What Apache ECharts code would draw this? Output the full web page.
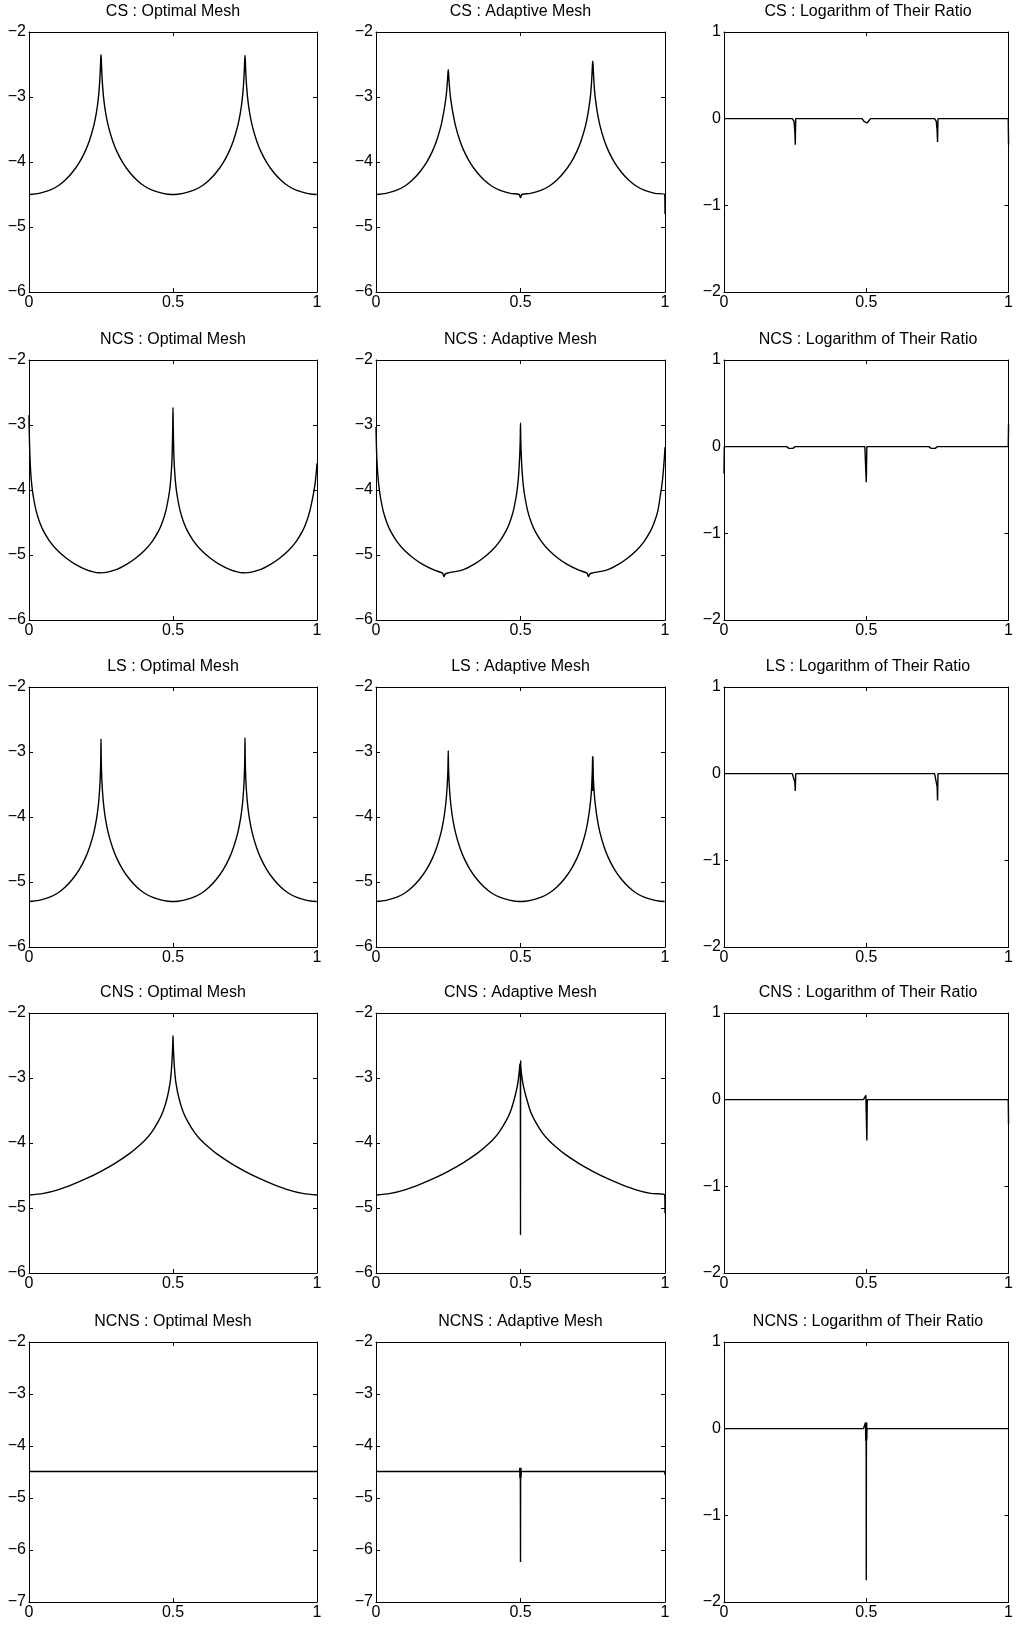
<!DOCTYPE html>
<html>
<head>
<meta charset="utf-8">
<script src="https://cdn.jsdelivr.net/npm/echarts@6/dist/echarts.min.js"></script>
<style>
html,body{margin:0;padding:0;background:#fff;}
#chart{width:1016px;height:1625px;}
</style>
</head>
<body>
<div id="chart"></div>
<script>
// ---------------- DATA ----------------
const rowNames = ['CS', 'NCS', 'LS', 'CNS', 'NCNS'];
const colTitles = ['Optimal Mesh', 'Adaptive Mesh', 'Logarithm of Their Ratio'];
const xTicks = [0, 0.5, 1];
const meshYRange = [-6, -2];
const ncnsYRange = [-7, -2];
const ratioYRange = [-2, 1];

// Row 1 & 3 shared x grid (peaks at 0.25 and 0.75)
const xTwoPeak = [0, 0.035, 0.07, 0.1, 0.125, 0.15, 0.175, 0.195, 0.21, 0.225, 0.234, 0.24, 0.244, 0.247, 0.249, 0.25, 0.251, 0.253, 0.256, 0.26, 0.266, 0.275, 0.29, 0.305, 0.325, 0.35, 0.375, 0.4, 0.43, 0.465,
  0.495, 0.5, 0.505,
  0.535, 0.57, 0.6, 0.625, 0.65, 0.675, 0.695, 0.71, 0.725, 0.734, 0.74, 0.744, 0.747, 0.749, 0.75, 0.751, 0.753, 0.756, 0.76, 0.766, 0.775, 0.79, 0.805, 0.825, 0.85, 0.875, 0.9, 0.93, 0.965,
  0.999, 1];

const csOpt = [-4.5, -4.482, -4.438, -4.369, -4.282, -4.162, -4.004, -3.836, -3.67, -3.44, -3.24, -3.05, -2.86, -2.64, -2.42, -2.35, -2.42, -2.64, -2.86, -3.05, -3.24, -3.44, -3.67, -3.836, -4.004, -4.162, -4.282, -4.369, -4.438, -4.482,
  -4.5, -4.5, -4.5,
  -4.482, -4.438, -4.369, -4.282, -4.162, -4.004, -3.836, -3.67, -3.44, -3.24, -3.05, -2.86, -2.64, -2.43, -2.36, -2.43, -2.64, -2.86, -3.05, -3.24, -3.44, -3.67, -3.836, -4.004, -4.162, -4.282, -4.369, -4.438, -4.482,
  -4.5, -4.5];
const csAda = [-4.5, -4.482, -4.438, -4.369, -4.282, -4.162, -4.004, -3.836, -3.67, -3.44, -3.24, -3.08, -2.93, -2.77, -2.63, -2.58, -2.63, -2.77, -2.93, -3.08, -3.24, -3.44, -3.67, -3.836, -4.004, -4.162, -4.282, -4.369, -4.438, -4.482,
  -4.5, -4.55, -4.5,
  -4.482, -4.438, -4.369, -4.282, -4.162, -4.004, -3.836, -3.67, -3.44, -3.24, -3.06, -2.89, -2.68, -2.5, -2.45, -2.5, -2.68, -2.89, -3.06, -3.24, -3.44, -3.67, -3.836, -4.004, -4.162, -4.282, -4.369, -4.438, -4.482,
  -4.5, -4.8];
const xCSr = [0, 0.24, 0.246, 0.249, 0.2505, 0.252, 0.485, 0.492, 0.497, 0.503, 0.508, 0.515, 0.74, 0.746, 0.749, 0.7505, 0.752, 0.999, 1];
const csRat = [0, 0, -0.03, -0.15, -0.3, 0, 0, -0.03, -0.05, -0.05, -0.03, 0, 0, -0.03, -0.14, -0.27, 0, 0, -0.3];

// Row 2 NCS
const xNCS = [0, 0.001, 0.003, 0.006, 0.01, 0.015, 0.025, 0.037, 0.05, 0.072, 0.1, 0.13, 0.16, 0.2, 0.23, 0.235, 0.24, 0.25, 0.3, 0.34, 0.37, 0.4, 0.428, 0.45, 0.463, 0.475, 0.485, 0.49, 0.494, 0.497, 0.499,
  0.5,
  0.501, 0.503, 0.506, 0.51, 0.515, 0.525, 0.537, 0.55, 0.572, 0.6, 0.63, 0.66, 0.7, 0.73, 0.735, 0.74, 0.75, 0.8, 0.84, 0.87, 0.9, 0.928, 0.95, 0.963, 0.975, 0.985, 0.99, 0.994, 0.997, 0.999, 1];
const ncsOpt = [-2.85, -3.12, -3.46, -3.73, -3.94, -4.1, -4.325, -4.497, -4.63, -4.79, -4.935, -5.05, -5.14, -5.23, -5.268, -5.271, -5.273, -5.275, -5.23, -5.14, -5.05, -4.935, -4.79, -4.63, -4.497, -4.325, -4.1, -3.94, -3.73, -3.46, -3.06,
  -2.73,
  -3.06, -3.46, -3.73, -3.94, -4.1, -4.325, -4.497, -4.63, -4.79, -4.935, -5.05, -5.14, -5.23, -5.268, -5.271, -5.273, -5.275, -5.23, -5.14, -5.05, -4.935, -4.79, -4.63, -4.497, -4.325, -4.12, -4.0, -3.88, -3.75, -3.65, -3.59];
const ncsAda = [-3.03, -3.25, -3.52, -3.75, -3.94, -4.1, -4.325, -4.497, -4.63, -4.79, -4.935, -5.05, -5.14, -5.23, -5.28, -5.33, -5.29, -5.275, -5.23, -5.14, -5.05, -4.935, -4.79, -4.63, -4.497, -4.325, -4.1, -3.94, -3.74, -3.5, -3.25,
  -2.97,
  -3.25, -3.5, -3.74, -3.94, -4.1, -4.325, -4.497, -4.63, -4.79, -4.935, -5.05, -5.14, -5.23, -5.28, -5.33, -5.29, -5.275, -5.23, -5.14, -5.05, -4.935, -4.79, -4.63, -4.497, -4.325, -4.05, -3.9, -3.72, -3.55, -3.42, -3.34];
const xNCSr = [0, 0.001, 0.22, 0.228, 0.235, 0.242, 0.25, 0.495, 0.498, 0.5, 0.502, 0.72, 0.728, 0.735, 0.742, 0.75, 0.999, 1];
const ncsRat = [-0.31, 0, 0, -0.02, -0.035, -0.02, 0, 0, -0.02, -0.41, 0, 0, -0.02, -0.035, -0.02, 0, 0, 0.26];

// Row 3 LS (uses xTwoPeak)
const lsOpt = [-5.3, -5.282, -5.238, -5.169, -5.082, -4.962, -4.804, -4.636, -4.47, -4.24, -4.04, -3.847, -3.658, -3.436, -3.16, -2.8, -3.16, -3.436, -3.658, -3.847, -4.04, -4.24, -4.47, -4.636, -4.804, -4.962, -5.082, -5.169, -5.238, -5.282,
  -5.3, -5.3, -5.3,
  -5.282, -5.238, -5.169, -5.082, -4.962, -4.804, -4.636, -4.47, -4.24, -4.04, -3.847, -3.658, -3.436, -3.15, -2.78, -3.15, -3.436, -3.658, -3.847, -4.04, -4.24, -4.47, -4.636, -4.804, -4.962, -5.082, -5.169, -5.238, -5.282,
  -5.3, -5.3];
const lsAda = [-5.3, -5.282, -5.238, -5.169, -5.082, -4.962, -4.804, -4.636, -4.47, -4.24, -4.04, -3.85, -3.67, -3.47, -3.25, -2.98, -3.25, -3.47, -3.67, -3.85, -4.04, -4.24, -4.47, -4.636, -4.804, -4.962, -5.082, -5.169, -5.238, -5.282,
  -5.3, -5.3, -5.3,
  -5.282, -5.238, -5.169, -5.082, -4.962, -4.804, -4.636, -4.47, -4.24, -4.04, -3.85, -3.68, -3.48, -3.3, -3.07, -3.3, -3.48, -3.68, -3.85, -4.04, -4.24, -4.47, -4.636, -4.804, -4.962, -5.082, -5.169, -5.238, -5.282,
  -5.3, -5.3];
const xLsSpike = [0.7485, 0.7495, 0.7505, 0.7515];
const lsSpike = [-3.6, -3.07, -3.35, -3.6];
const xLSr = [0, 0.24, 0.246, 0.249, 0.2505, 0.252, 0.74, 0.746, 0.749, 0.7505, 0.752, 1];
const lsRat = [0, 0, -0.02, -0.1, -0.2, 0, 0, -0.02, -0.15, -0.31, 0, 0];

// Row 4 CNS
const xCNS = [0, 0.05, 0.1, 0.15, 0.2, 0.25, 0.3, 0.35, 0.375, 0.4, 0.425, 0.45, 0.465, 0.48, 0.49, 0.494, 0.497, 0.499, 0.5, 0.501, 0.503, 0.506, 0.51, 0.52, 0.535, 0.55, 0.575, 0.6, 0.625, 0.65, 0.7, 0.75, 0.8, 0.85, 0.9, 0.95, 1];
const cnsOpt = [-4.8, -4.775, -4.72, -4.64, -4.545, -4.435, -4.31, -4.16, -4.07, -3.97, -3.84, -3.66, -3.52, -3.3, -3.07, -2.9, -2.7, -2.5, -2.35, -2.5, -2.7, -2.9, -3.07, -3.3, -3.52, -3.66, -3.84, -3.97, -4.07, -4.16, -4.31, -4.435, -4.545, -4.64, -4.72, -4.775, -4.8];
const xCNSa = [0, 0.05, 0.1, 0.15, 0.2, 0.25, 0.3, 0.35, 0.375, 0.4, 0.425, 0.45, 0.465, 0.48, 0.49, 0.494, 0.497, 0.4975, 0.499, 0.4995, 0.5, 0.5005, 0.501, 0.503, 0.506, 0.51, 0.52, 0.535, 0.55, 0.575, 0.6, 0.625, 0.65, 0.7, 0.75, 0.8, 0.85, 0.9, 0.95, 0.999, 1];
const cnsAda = [-4.8, -4.775, -4.72, -4.64, -4.545, -4.435, -4.31, -4.16, -4.07, -3.97, -3.84, -3.66, -3.52, -3.3, -3.1, -2.97, -2.84, -2.8, -2.78, -2.8, -5.42, -2.73, -2.82, -2.92, -3.02, -3.12, -3.3, -3.52, -3.66, -3.84, -3.97, -4.07, -4.16, -4.31, -4.435, -4.545, -4.64, -4.72, -4.775, -4.8, -5.08];
const xCNSr = [0, 0.49, 0.496, 0.4985, 0.502, 0.5035, 0.51, 0.999, 1];
const cnsRat = [0, 0, 0, 0.05, -0.47, 0, 0, 0, -0.28];

// Row 5 NCNS
const xNCNS = [0, 0.25, 0.5, 0.75, 1];
const ncnsOpt = [-4.49, -4.49, -4.49, -4.49, -4.49];
const xNCNSa = [0, 0.49, 0.497, 0.4975, 0.498, 0.4985, 0.499, 0.4995, 0.5, 0.5005, 0.501, 0.5015, 0.502, 0.5025, 0.51, 0.999, 1];
const ncnsAda = [-4.49, -4.49, -4.49, -4.42, -4.62, -4.42, -4.62, -4.42, -6.23, -4.45, -4.62, -4.42, -4.6, -4.49, -4.49, -4.49, -4.55];
const xNCNSr = [0, 0.49, 0.497, 0.4975, 0.498, 0.4985, 0.499, 0.4995, 0.5, 0.5005, 0.501, 0.5015, 0.502, 0.5025, 0.51, 1];
const ncnsRat = [0, 0, 0, 0.07, -0.14, 0.07, -0.14, 0.07, -1.75, 0.05, -0.14, 0.07, -0.12, 0, 0, 0];

// panels: [row][col] -> list of [x, y, smooth?]
const panelData = [
  [[[xTwoPeak, csOpt, true]], [[xTwoPeak, csAda, true]], [[xCSr, csRat, false]]],
  [[[xNCS, ncsOpt, true]], [[xNCS, ncsAda, true]], [[xNCSr, ncsRat, false]]],
  [[[xTwoPeak, lsOpt, true]], [[xTwoPeak, lsAda, true], [xLsSpike, lsSpike, false]], [[xLSr, lsRat, false]]],
  [[[xCNS, cnsOpt, true]], [[xCNSa, cnsAda, true]], [[xCNSr, cnsRat, false]]],
  [[[xNCNS, ncnsOpt, false]], [[xNCNSa, ncnsAda, false]], [[xNCNSr, ncnsRat, false]]]
];

// ---------------- LAYOUT ----------------
const colLeft = [29, 376, 724];
const colWidth = [288, 289, 288];
const rowTop = [32, 360, 687, 1013, 1342];
const panelHeight = 260;
const FONT = 'Liberation Sans, Arial, Helvetica, sans-serif';

const fmtY = v => v < 0 ? '\u2212' + (-v) : String(v);

const grids = [], xAxes = [], yAxes = [], series = [], titles = [];
let k = 0;
for (let r = 0; r < 5; r++) {
  for (let c = 0; c < 3; c++) {
    grids.push({left: colLeft[c], top: rowTop[r], width: colWidth[c], height: panelHeight, containLabel: false});
    titles.push({
      text: rowNames[r] + ' : ' + colTitles[c],
      left: colLeft[c] + colWidth[c] / 2,
      top: rowTop[r] - 29,
      textAlign: 'center',
      padding: 0,
      textStyle: {fontFamily: FONT, fontSize: 16, fontWeight: 'normal', color: '#000', lineHeight: 18}
    });
    const yr = c === 2 ? ratioYRange : (r === 4 ? ncnsYRange : meshYRange);
    const common = {
      gridIndex: k, type: 'value',
      axisLine: {show: true, onZero: false, lineStyle: {color: '#000', width: 1}},
      axisTick: {show: true, inside: true, length: 4, lineStyle: {color: '#000', width: 1}},
      splitLine: {show: false}
    };
    xAxes.push(Object.assign({}, common, {
      position: 'bottom', min: xTicks[0], max: xTicks[xTicks.length - 1], interval: xTicks[1] - xTicks[0],
      axisLabel: {show: true, margin: 3, color: '#000', fontFamily: FONT, fontSize: 16, formatter: v => String(v)}
    }));
    xAxes.push(Object.assign({}, common, {
      position: 'top', min: xTicks[0], max: xTicks[xTicks.length - 1], interval: xTicks[1] - xTicks[0],
      axisLabel: {show: false}
    }));
    yAxes.push(Object.assign({}, common, {
      position: 'left', min: yr[0], max: yr[1], interval: 1,
      axisLabel: {show: true, margin: 3, color: '#000', fontFamily: FONT, fontSize: 16, formatter: fmtY}
    }));
    yAxes.push(Object.assign({}, common, {
      position: 'right', min: yr[0], max: yr[1], interval: 1,
      axisLabel: {show: false}
    }));
    panelData[r][c].forEach(([xs, ys, sm]) => {
      series.push({
        type: 'line',
        xAxisIndex: 2 * k, yAxisIndex: 2 * k,
        data: xs.map((x, i) => [x, ys[i]]),
        showSymbol: false, symbol: 'none',
        smooth: sm ? 0.3 : false,
        lineStyle: {color: '#000', width: 1.4},
        clip: true, animation: false, silent: true
      });
    });
    k++;
  }
}

const chart = echarts.init(document.getElementById('chart'), null, {renderer: 'canvas', width: 1016, height: 1625});
chart.setOption({
  backgroundColor: '#fff',
  animation: false,
  title: titles,
  grid: grids,
  xAxis: xAxes,
  yAxis: yAxes,
  series: series
});
</script>
</body>
</html>
